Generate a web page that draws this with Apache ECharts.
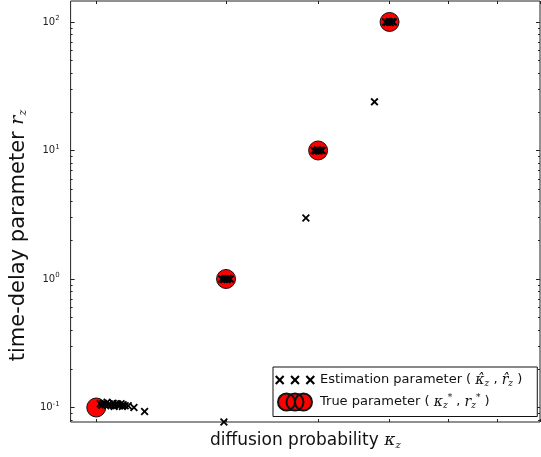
<!DOCTYPE html>
<html>
<head>
<meta charset="utf-8">
<script src="https://cdn.jsdelivr.net/npm/echarts@6/dist/echarts.min.js"></script>
<style>
  html, body { margin: 0; padding: 0; background: #fff; }
  #main { width: 541px; height: 457px; }
</style>
</head>
<body>
<div id="main"></div>
<script>
// true parameters (big red circles)
var trueKappa = [0.2, 0.3, 0.4, 0.5];
var trueR = [0.1, 1, 10, 100];

// estimated parameters (black crosses)
var estKappa = [
  0.2025, 0.2044, 0.2056, 0.2069, 0.2082, 0.2095, 0.2108, 0.2121, 0.2134, 0.2148,
  0.2161, 0.2175, 0.2189, 0.2210, 0.2250, 0.2326,
  0.2035, 0.2075, 0.2115, 0.2140, 0.2170,
  0.298, 0.385, 0.477,
  0.296, 0.298, 0.299, 0.300, 0.301, 0.302, 0.304,
  0.395, 0.397, 0.399, 0.400, 0.401, 0.403, 0.405,
  0.494, 0.496, 0.499, 0.500, 0.501, 0.504, 0.506
];
var estR = [
  0.107, 0.108, 0.105, 0.110, 0.107, 0.103, 0.108, 0.105, 0.107, 0.103,
  0.107, 0.105, 0.103, 0.103, 0.100, 0.093,
  0.104, 0.104, 0.102, 0.106, 0.102,
  0.077, 2.98, 23.9,
  1.0, 0.99, 1.01, 1.0, 0.99, 1.01, 1.0,
  10, 9.9, 10.1, 10, 9.9, 10.1, 10,
  100, 99, 101, 100, 99, 101, 100
];

// axis ticks
var xTicks = [0.2, 0.3, 0.4, 0.5, 0.6, 0.7, 0.8];
var yMajorTicks = [0.1, 1, 10, 100];
var yMinorTicks = [0.08, 0.09, 0.2, 0.3, 0.4, 0.5, 0.6, 0.7, 0.8, 0.9,
  2, 3, 4, 5, 6, 7, 8, 9, 20, 30, 40, 50, 60, 70, 80, 90];

var xMin = 0.1846, xMax = 0.8;
var yMin = 0.0771, yMax = 145.6;

var crossPath = 'path://M0,1.6L1.6,0L5,3.4L8.4,0L10,1.6L6.6,5L10,8.4L8.4,10L5,6.6L1.6,10L0,8.4L3.4,5Z';
var crossIcon = 'path://' +
  'M0,1.3L1.3,0L4,2.7L6.7,0L8,1.3L5.3,4L8,6.7L6.7,8L4,5.3L1.3,8L0,6.7L2.7,4Z' +
  'M13,1.3L14.3,0L17,2.7L19.7,0L21,1.3L18.3,4L21,6.7L19.7,8L17,5.3L14.3,8L13,6.7L15.7,4Z' +
  'M26,1.3L27.3,0L30,2.7L32.7,0L34,1.3L31.3,4L34,6.7L32.7,8L30,5.3L27.3,8L26,6.7L28.7,4Z';
var circleIcon = 'path://' +
  'M0,10a10,10 0 1,0 20,0a10,10 0 1,0 -20,0Z' +
  'M10,10a10,10 0 1,0 20,0a10,10 0 1,0 -20,0Z' +
  'M20,10a10,10 0 1,0 20,0a10,10 0 1,0 -20,0Z';

var estData = estKappa.map(function (k, i) { return [k, estR[i]]; });
var trueData = trueKappa.map(function (k, i) { return [k, trueR[i]]; });

var mathRich = {
  m: { fontFamily: 'DejaVu Serif', fontStyle: 'italic', fontSize: 14, color: '#111' },
  s: { fontFamily: 'DejaVu Serif', fontStyle: 'italic', fontSize: 9, color: '#111', padding: [8, 0, 0, 0] },
  p: { fontFamily: 'DejaVu Serif', fontSize: 9, color: '#111', padding: [0, 0, 8, 0] }
};

function yAxisBase(pos, ticks, len, labels) {
  return {
    type: 'log',
    position: pos,
    min: yMin,
    max: yMax,
    axisLine: { show: false },
    splitLine: { show: false },
    axisTick: { show: true, inside: true, length: len, customValues: ticks,
      lineStyle: { color: '#222', width: 1 } },
    axisLabel: labels ? {
      show: true,
      customValues: yMajorTicks,
      margin: 11,
      fontFamily: 'DejaVu Sans',
      fontSize: 10,
      color: '#222',
      formatter: function (v) {
        return '10{sup|' + Math.round(Math.log10(v)) + '}';
      },
      rich: { sup: { fontSize: 7, fontFamily: 'DejaVu Sans', color: '#222', padding: [0, 0, 7, 0] } }
    } : { show: false, customValues: ticks }
  };
}

var chart = echarts.init(document.getElementById('main'));
var option = {
  animation: false,
  grid: { left: 66, right: 1, top: 1, bottom: 35, show: true, borderColor: '#222', borderWidth: 1 },
  xAxis: [
    {
      type: 'log', position: 'bottom', min: xMin, max: xMax,
      name: 'diffusion probability {m|κ}{s|z}',
      nameLocation: 'middle', nameGap: 10,
      nameTextStyle: {
        fontFamily: 'DejaVu Sans', fontSize: 17, color: '#111', verticalAlign: 'top',
        rich: {
          m: { fontFamily: 'DejaVu Serif', fontStyle: 'italic', fontSize: 17, color: '#111' },
          s: { fontFamily: 'DejaVu Serif', fontStyle: 'italic', fontSize: 10, color: '#111', padding: [8, 0, 0, 0] }
        }
      },
      axisLine: { show: false }, splitLine: { show: false },
      axisTick: { inside: true, length: 3, customValues: xTicks, lineStyle: { color: '#222' } },
      axisLabel: { show: false, customValues: xTicks }
    },
    {
      type: 'log', position: 'top', min: xMin, max: xMax,
      axisLine: { show: false }, splitLine: { show: false },
      axisTick: { inside: true, length: 3, customValues: xTicks, lineStyle: { color: '#222' } },
      axisLabel: { show: false, customValues: xTicks }
    }
  ],
  yAxis: [
    Object.assign(yAxisBase('left', yMajorTicks, 4, true), {
      name: 'time-delay parameter {m|r}{s|z}',
      nameLocation: 'middle', nameGap: 29, nameRotate: 90,
      nameTextStyle: {
        fontFamily: 'DejaVu Sans', fontSize: 21, color: '#111',
        padding: [0, 48, 0, 0],
        rich: {
          m: { fontFamily: 'DejaVu Serif', fontStyle: 'italic', fontSize: 19, color: '#111' },
          s: { fontFamily: 'DejaVu Serif', fontStyle: 'italic', fontSize: 11, color: '#111', padding: [9, 0, 0, 0] }
        }
      }
    }),
    yAxisBase('left', yMinorTicks, 2, false),
    yAxisBase('right', yMajorTicks, 4, false),
    yAxisBase('right', yMinorTicks, 2, false)
  ],
  legend: {
    orient: 'vertical',
    left: 273,
    top: 367,
    padding: [6, 15, 5, 2],
    itemGap: 4,
    itemWidth: 40,
    itemHeight: 17,
    borderColor: '#111',
    borderWidth: 1,
    backgroundColor: '#fff',
    data: [
      { name: 'Estimation parameter', icon: crossIcon },
      { name: 'True parameter', icon: circleIcon }
    ],
    textStyle: { fontFamily: 'DejaVu Sans', fontSize: 13, color: '#111', rich: mathRich },
    formatter: function (name) {
      if (name === 'Estimation parameter') {
        return 'Estimation parameter ( {m|κ̂}{s|z} , {m|r̂}{s|z} )';
      }
      return 'True parameter ( {m|κ}{s|z}{p|*} , {m|r}{s|z}{p|*} )';
    }
  },
  series: [
    {
      name: 'True parameter',
      type: 'scatter',
      data: trueData,
      symbol: 'circle',
      symbolSize: 19,
      z: 2,
      itemStyle: { color: '#ff0000', borderColor: '#111', borderWidth: 1, opacity: 1 }
    },
    {
      name: 'Estimation parameter',
      type: 'scatter',
      data: estData,
      symbol: crossPath,
      symbolSize: 8,
      z: 3,
      clip: false,
      itemStyle: { color: '#000', opacity: 1 }
    }
  ]
};
chart.setOption(option);
</script>
</body>
</html>
